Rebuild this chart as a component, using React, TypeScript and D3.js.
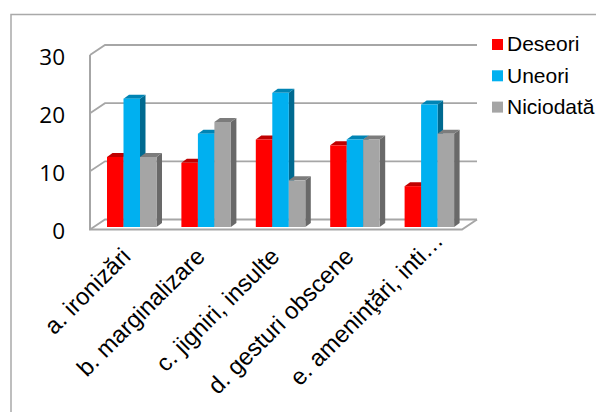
import React from "react";
import * as d3 from "d3";

const categories = ["a. ironizări", "b. marginalizare", "c. jigniri, insulte", "d. gesturi obscene", "e. ameninţări, inti…"];
const seriesNames = ["Deseori", "Uneori", "Niciodată"];
const deseori = [12, 11, 15, 14, 7];
const uneori = [22, 16, 23, 15, 21];
const niciodata = [12, 18, 8, 15, 16];
const ticks = [0, 10, 20, 30];
const labelShiftX = [0, 0, 0, 0, 15];
const labelShiftY = [0, 0, 0, 0, -16];
const front = ["#ff0000", "#00b0f0", "#a5a5a5"];
const tops = ["#bf0000", "#0084b4", "#7c7c7c"];
const sides = ["#990000", "#006a90", "#696969"];
const grid = "#a6a6a6";

const W = 596, H = 412;
const depthX = 15, depthY = 10;
const barDX = 5.5, barDY = 4;

export default function App() {
  const values = [deseori, uneori, niciodata];
  const x = d3.scaleBand<number>().domain(d3.range(categories.length)).range([90, 462]).paddingInner(0).paddingOuter(0);
  const inner = d3.scaleBand<number>().domain([0, 1, 2]).range([17, 66.5]);
  const wallY = d3.scaleLinear().domain([0, 30]).range([229.5, 55]);
  const barY = d3.scaleLinear().domain([0, 30]).range([227, 52]);
  const bw = inner.bandwidth();
  return (
    <svg width={W} height={H} viewBox={`0 0 ${W} ${H}`} style={{ position: "absolute", left: 0, top: 0, background: "#fff" }}>
      <path d={`M${W} 14.5H11V${H}`} fill="none" stroke="#a9a9a9" strokeWidth={1.5} />
      {ticks.map((t) => {
        const y = wallY(t);
        return (
          <g key={t}>
            <path d={`M90 ${y}L${90 + depthX} ${y - depthY}H${462 + depthX}`} fill="none" stroke={grid} strokeWidth={1.8} />
            <text x={65} y={y + 9.5} textAnchor="end" fontFamily="Open Sans" fontSize={22.5} fill="#000">{t}</text>
          </g>
        );
      })}
      <path d={`M90 ${wallY(30)}V${wallY(0)}H462L${462 + depthX} ${wallY(0) - depthY}`} fill="none" stroke={grid} strokeWidth={2} />
      {categories.map((c, i) => (
        <g key={c}>
          {values.map((v, s) => {
            const x0 = x(i)! + inner(s)!;
            const x1 = x0 + bw;
            const y0 = barY(v[i]);
            const yb = barY(0);
            return (
              <g key={s}>
                <path d={`M${x1} ${y0}l${barDX} ${-barDY}V${yb - barDY}l${-barDX} ${barDY}Z`} fill={sides[s]} />
                <path d={`M${x0} ${y0}l${barDX} ${-barDY}H${x1 + barDX}l${-barDX} ${barDY}Z`} fill={tops[s]} />
                <rect x={x0} y={y0} width={bw} height={yb - y0} fill={front[s]} />
              </g>
            );
          })}
          <text
            transform={`translate(${x(i)! + 42 + labelShiftX[i]},${258 + labelShiftY[i]}) rotate(-45)`}
            textAnchor="end"
            fontFamily="Liberation Sans"
            fontSize={23.8}
            fill="#000"
          >{c}</text>
        </g>
      ))}
      {seriesNames.map((n, i) => (
        <g key={n}>
          <rect x={492} y={39 + i * 31.3} width={11} height={11} fill={front[i]} />
          <text x={507} y={51 + i * 31.5} fontFamily="Liberation Sans" fontSize={21} fill="#000">{n}</text>
        </g>
      ))}
    </svg>
  );
}
